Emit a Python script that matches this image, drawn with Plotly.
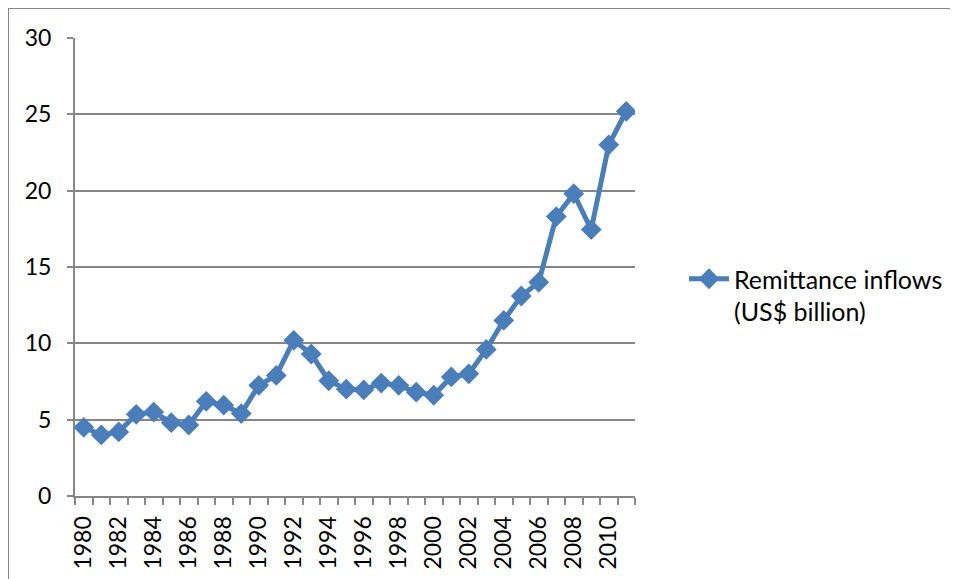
import plotly.graph_objects as go

years = list(range(1980, 2012))
remittance = [4.5, 4.0, 4.2, 5.35, 5.5, 4.8, 4.65, 6.2, 5.95, 5.4,
              7.25, 7.9, 10.2, 9.3, 7.55, 7.0, 6.95, 7.4, 7.25, 6.8,
              6.6, 7.8, 8.0, 9.6, 11.5, 13.1, 14.0, 18.3, 19.8, 17.45,
              23.0, 25.2]
label_years = list(range(1980, 2012, 2))
series_name = "Remittance inflows<br>(US$ billion)"

FONT = "Lato"
GRID = "#868686"

fig = go.Figure()
fig.add_trace(go.Scatter(
    x=years, y=remittance, name=series_name, mode="lines+markers",
    line=dict(color="#4A7EBB", width=5),
    marker=dict(symbol="diamond", size=16, color="#4A7EBB"),
    showlegend=True,
))

# page body adds an 8px offset; work in screen pixels and shift
OFF = 8
W, H = 958 - OFF, 579 - OFF
L, R, T, B = 75 - OFF, 958 - 635, 38 - OFF, 579 - 496
pw, ph = W - L - R, H - T - B

def px_x(v):
    return (v - OFF - L) / pw

def px_y(v):
    return (H - B - (v - OFF)) / ph

fig.update_layout(
    width=W, height=H,
    margin=dict(l=L, r=R, t=T, b=B, autoexpand=False),
    paper_bgcolor="white", plot_bgcolor="white",
    font=dict(family=FONT, size=23, color="black"),
    showlegend=True,
    legend=dict(x=px_x(684), y=px_y(256), xanchor="left", yanchor="top",
                valign="top", font=dict(family=FONT, size=25, color="black"),
                bgcolor="rgba(0,0,0,0)", itemwidth=40),
    xaxis=dict(
        range=[1979.5, 2011.5], tickmode="array", tickvals=label_years,
        ticktext=[str(y) for y in label_years], tickangle=-90,
        ticks="", showgrid=False, zeroline=False,
        showline=True, linecolor=GRID, linewidth=2,
        tickfont=dict(family=FONT, size=23), ticklabelstandoff=9,
        minor=dict(ticks="outside", tick0=1979.5, dtick=1, ticklen=7,
                   tickcolor=GRID, tickwidth=2, showgrid=False),
    ),
    yaxis=dict(
        range=[0, 30], dtick=5, tick0=0, showgrid=True, gridcolor=GRID,
        gridwidth=2, zeroline=False, showline=True, linecolor=GRID,
        linewidth=2, ticks="outside", ticklen=6, tickcolor=GRID, tickwidth=2,
        tickfont=dict(family=FONT, size=23), ticklabelstandoff=11,
    ),
    shapes=[
        dict(type="line", xref="paper", yref="paper",
             x0=px_x(8), x1=px_x(958), y0=px_y(8), y1=px_y(8),
             line=dict(color=GRID, width=2)),
        dict(type="line", xref="paper", yref="paper",
             x0=px_x(8), x1=px_x(8), y0=px_y(8), y1=px_y(579),
             line=dict(color=GRID, width=2)),
    ],
)

fig.write_html("out.html")
